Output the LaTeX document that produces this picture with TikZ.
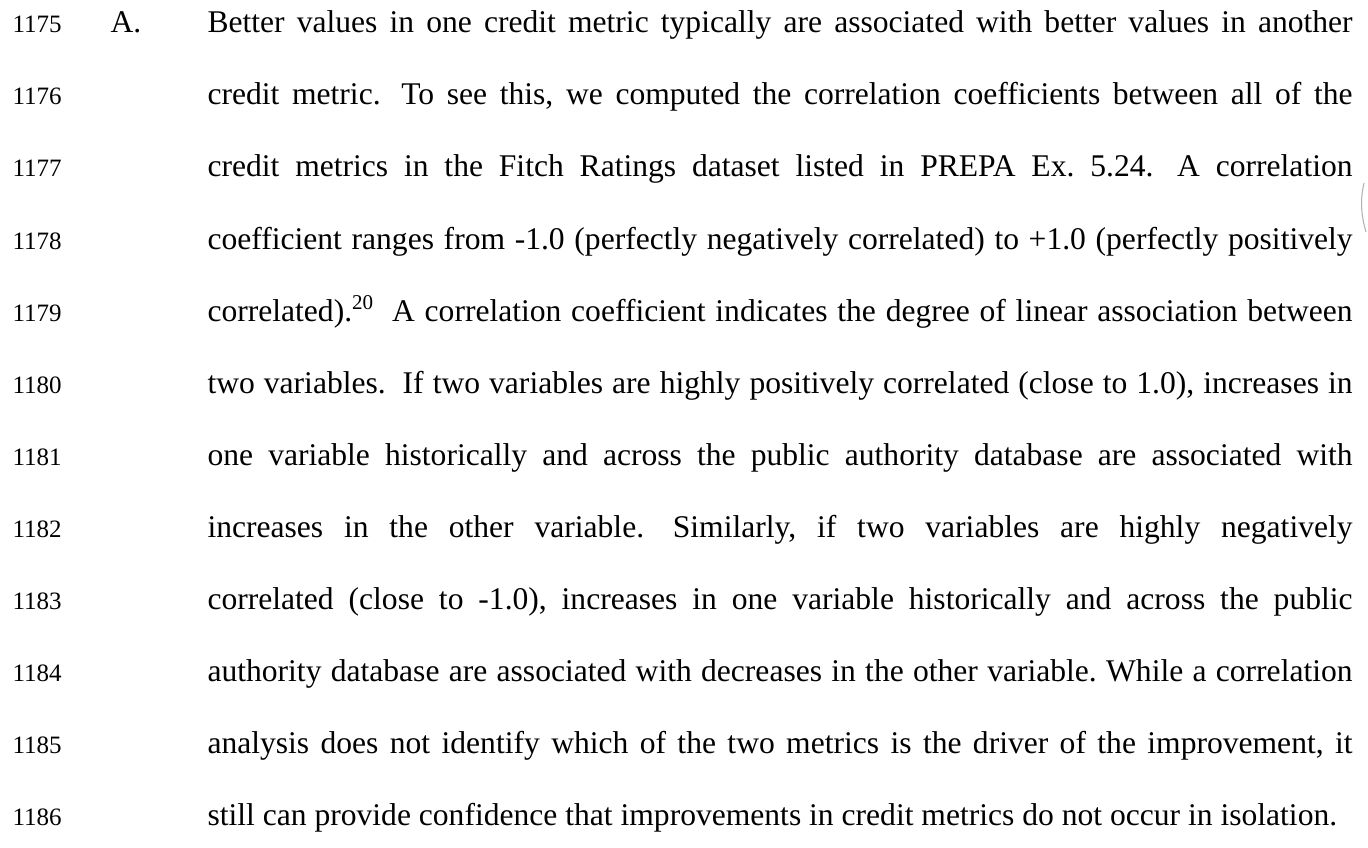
\documentclass[tikz,border=0pt]{standalone}
\usepackage{fontspec}
\setmainfont[Ligatures=NoCommon]{Liberation Serif}
\usepackage{tikz}
\usetikzlibrary{positioning}

\newcommand{\jline}[1]{\makebox[435.1pt][s]{#1}}
\newcommand{\dsp}{\hspace{0.25em}}

\begin{document}
\frenchspacing
\begin{tikzpicture}[
x=0.38pt, y=-0.38pt,
numnode/.style={anchor=base west, inner sep=0pt, font=\fontsize{9.5}{11}\selectfont},
textline/.style={anchor=base west, inner sep=0pt, font=\fontsize{12}{14}\selectfont},
]
\useasboundingbox[fill=white] (0,0) rectangle (1368,847);

%Line numbers
\node[numnode] (n1175) at (12,33)  {1175};
\node[numnode] (n1176) at (12,105) {1176};
\node[numnode] (n1177) at (12,177) {1177};
\node[numnode] (n1178) at (12,249) {1178};
\node[numnode] (n1179) at (12,321) {1179};
\node[numnode] (n1180) at (12,393) {1180};
\node[numnode] (n1181) at (12,465) {1181};
\node[numnode] (n1182) at (12,537) {1182};
\node[numnode] (n1183) at (12,609) {1183};
\node[numnode] (n1184) at (12,681) {1184};
\node[numnode] (n1185) at (12,753) {1185};
\node[numnode] (n1186) at (12,825) {1186};

%Item label
\node[textline] (itemA) at (110,33) {A.};

%Lines of text
\node[textline] (t1175) at (207,33)  {\jline{Better values in one credit metric typically are associated with better values in another}};
\node[textline] (t1176) at (207,105) {\jline{credit metric.\dsp{} To see this, we computed the correlation coefficients between all of the}};
\node[textline] (t1177) at (207,177) {\jline{credit metrics in the Fitch Ratings dataset listed in PREPA Ex. 5.24.\dsp{} A correlation}};
\node[textline] (t1178) at (207,249) {\jline{coefficient ranges from -1.0 (perfectly negatively correlated) to +1.0 (perfectly positively}};
\node[textline] (t1179) at (207,321) {\jline{correlated).\textsuperscript{20}\dsp{} A correlation coefficient indicates the degree of linear association between}};
\node[textline] (t1180) at (207,393) {\jline{two variables.\dsp{} If two variables are highly positively correlated (close to 1.0), increases in}};
\node[textline] (t1181) at (207,465) {\jline{one variable historically and across the public authority database are associated with}};
\node[textline] (t1182) at (207,537) {\jline{increases in the other variable.\dsp{} Similarly, if two variables are highly negatively}};
\node[textline] (t1183) at (207,609) {\jline{correlated (close to -1.0), increases in one variable historically and across the public}};
\node[textline] (t1184) at (207,681) {\jline{authority database are associated with decreases in the other variable. While a correlation}};
\node[textline] (t1185) at (207,753) {\jline{analysis does not identify which of the two metrics is the driver of the improvement, it}};
\node[textline] (t1186) at (207,825) {still can provide confidence that improvements in credit metrics do not occur in isolation.};

%Scan mark
\draw[gray!60, thin] (1364,183) .. controls (1360,200) and (1361,215) .. (1366,232);
\end{tikzpicture}
\end{document}
